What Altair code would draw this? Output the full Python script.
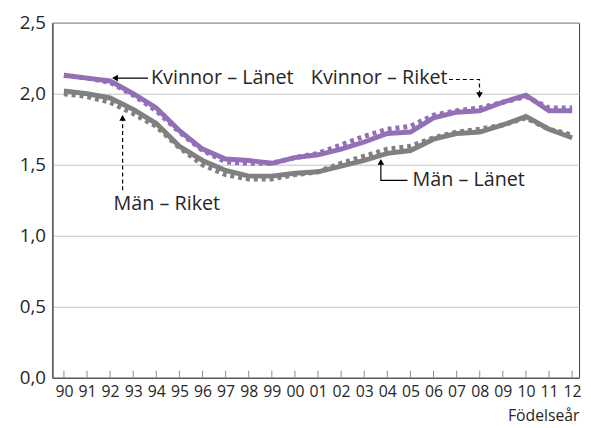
import altair as alt
import pandas as pd

years = list(range(1990, 2013))
kvinnor_lanet = [2.13, 2.11, 2.09, 2.00, 1.90, 1.74, 1.61, 1.54, 1.53, 1.51, 1.55, 1.57,
                 1.61, 1.66, 1.72, 1.73, 1.83, 1.87, 1.88, 1.94, 1.99, 1.88, 1.88]
kvinnor_riket = [2.13, 2.11, 2.08, 1.99, 1.88, 1.73, 1.60, 1.52, 1.51, 1.51, 1.55, 1.58,
                 1.64, 1.70, 1.75, 1.77, 1.85, 1.88, 1.90, 1.94, 1.98, 1.90, 1.90]
man_lanet = [2.02, 2.00, 1.97, 1.89, 1.79, 1.63, 1.53, 1.46, 1.42, 1.42, 1.44, 1.45,
             1.49, 1.53, 1.58, 1.60, 1.68, 1.72, 1.73, 1.78, 1.84, 1.75, 1.69]
man_riket = [2.00, 1.98, 1.94, 1.86, 1.77, 1.62, 1.50, 1.43, 1.40, 1.40, 1.43, 1.45,
             1.51, 1.56, 1.61, 1.63, 1.69, 1.73, 1.75, 1.78, 1.83, 1.75, 1.71]

series_names = ["Kvinnor – Riket", "Män – Riket", "Kvinnor – Länet", "Män – Länet"]
series_values = [kvinnor_riket, man_riket, kvinnor_lanet, man_lanet]
series_colors = ["#9370b5", "#808080", "#9370b5", "#808080"]
series_dashed = [True, True, False, False]

# annotation texts (data coordinates: year, value)
label_texts = ["Kvinnor – Länet", "Män – Riket", "Kvinnor – Riket", "Män – Länet"]
label_x = [1993.77, 1992.15, 2000.69, 2005.09]
label_y = [2.11, 1.22, 2.11, 1.39]

# leader lines
lead_id = ["kl", "kl", "mr", "mr", "kr", "kr", "kr", "ml", "ml", "ml"]
lead_x = [1993.64, 1992.21, 1992.54, 1992.54, 2006.67, 2007.99, 2007.99, 2004.87, 2003.72, 2003.72]
lead_y = [2.11, 2.11, 1.32, 1.83, 2.10, 2.10, 1.99, 1.39, 1.39, 1.52]
lead_order = [0, 1, 0, 1, 0, 1, 2, 0, 1, 2]
lead_dashed = [False, False, True, True, True, True, True, False, False, False]

# arrow heads
head_x = [1992.21, 1992.54, 2007.99, 2003.72]
head_y = [2.11, 1.83, 1.99, 1.52]
head_shape = ["triangle-left", "triangle-up", "triangle-down", "triangle-up"]

FONT = "Open Sans"
TXT = "#262626"

xscale = alt.Scale(domain=[1989.5, 2012.3], nice=False, zero=False)
yscale = alt.Scale(domain=[0, 2.5], nice=False)

xaxis = alt.Axis(values=years, labelExpr="slice(toString(datum.value), 2)", ticks=False,
                 grid=False, domainColor="#404040", labelFontSize=16, labelColor=TXT,
                 labelFont=FONT, labelPadding=6, labelFlush=False, labelOverlap=False,
                 title="Födelseår", titleAnchor="end", titleFontSize=16, titleFont=FONT,
                 titleFontWeight="normal", titleColor=TXT, titlePadding=8)
yaxis = alt.Axis(values=[0, 0.5, 1.0, 1.5, 2.0, 2.5],
                 labelExpr="replace(format(datum.value, '.1f'), '.', ',')",
                 ticks=False, grid=True, gridColor="#c0c0c0", domainColor="#404040",
                 labelFontSize=19, labelColor=TXT, labelFont=FONT, labelPadding=7, title=None)


def X(field):
    return alt.X(field, scale=xscale, axis=xaxis)


def Y(field):
    return alt.Y(field, scale=yscale, axis=yaxis)


layers = []

# tick marks pointing upward inside the plot
ticks_df = pd.DataFrame({"year": years, "y0": [0.0] * len(years), "y1": [0.05] * len(years)})
layers.append(alt.Chart(ticks_df).mark_rule(color="#8c8c8c", strokeWidth=1).encode(
    x=X("year:Q"), y=Y("y0:Q"), y2="y1:Q"))

for name, vals, col, dashed in zip(series_names, series_values, series_colors, series_dashed):
    df = pd.DataFrame({"year": years, "value": vals, "serie": name})
    kw = dict(color=col, strokeWidth=5, strokeJoin="miter")
    if dashed:
        kw["strokeDash"] = [4, 4]
        kw["strokeCap"] = "butt"
    layers.append(alt.Chart(df).mark_line(**kw).encode(x=X("year:Q"), y=Y("value:Q")))

lead_df = pd.DataFrame({"id": lead_id, "x": lead_x, "y": lead_y, "o": lead_order, "d": lead_dashed})
layers.append(alt.Chart(lead_df[~lead_df.d]).mark_line(color="#000000", strokeWidth=1.2).encode(
    x=X("x:Q"), y=Y("y:Q"), detail="id:N", order="o:Q"))
layers.append(alt.Chart(lead_df[lead_df.d]).mark_line(color="#000000", strokeWidth=1.2,
                                                       strokeDash=[4, 3]).encode(
    x=X("x:Q"), y=Y("y:Q"), detail="id:N", order="o:Q"))

head_df = pd.DataFrame({"x": head_x, "y": head_y, "shape": head_shape})
layers.append(alt.Chart(head_df).mark_point(filled=True, color="#000000", size=45, opacity=1).encode(
    x=X("x:Q"), y=Y("y:Q"), shape=alt.Shape("shape:N", scale=None)))

lab_df = pd.DataFrame({"x": label_x, "y": label_y, "t": label_texts})
layers.append(alt.Chart(lab_df).mark_text(align="left", baseline="middle", fontSize=20,
                                          font=FONT, color=TXT).encode(
    x=X("x:Q"), y=Y("y:Q"), text="t:N"))

chart = alt.layer(*layers).properties(
    width=534, height=360,
    autosize=alt.AutoSizeParams(type="none"),
    padding={"left": 45, "top": 12, "right": 4, "bottom": 47},
).configure_view(stroke="#404040", strokeWidth=1)

chart.save("out.html", embed_options={"renderer": "svg", "actions": False})
